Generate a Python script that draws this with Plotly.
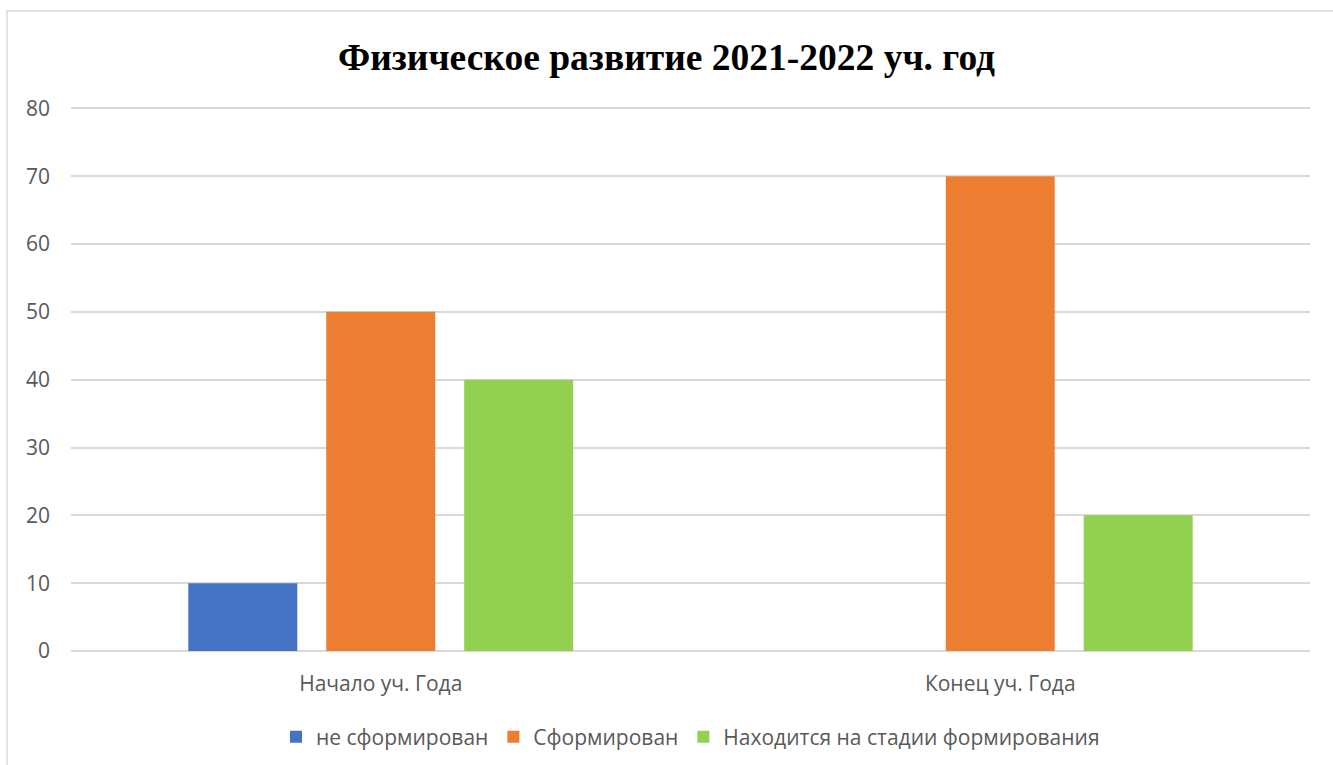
import plotly.graph_objects as go

categories = ["Начало уч. Года", "Конец уч. Года"]
series_names = ["не сформирован", "Сформирован", "Находится на стадии формирования"]
not_formed = [10, 0]
formed = [50, 70]
forming = [40, 20]
colors = ["#4472c4", "#ed7d31", "#92d050"]

W, H = 1333, 765
L, R, T, B = 71, 23, 107, 114
pw, ph = W - L - R, H - T - B

fig = go.Figure()
for name, vals, col in zip(series_names, [not_formed, formed, forming], colors):
    fig.add_trace(go.Bar(x=categories, y=vals, name=name, marker_color=col,
                         marker_line_width=0))

# chart frame
fig.add_shape(type="rect", xref="paper", yref="paper",
              x0=(7 - L) / pw, x1=(W + 5 - L) / pw,
              y0=(H - B - (H + 5)) / ph, y1=(H - B - 11) / ph,
              line=dict(color="#d9d9d9", width=1.5), layer="below")

fig.update_layout(
    width=W, height=H,
    margin=dict(l=L, r=R, t=T, b=B, autoexpand=False),
    paper_bgcolor="white", plot_bgcolor="white",
    barmode="group", bargap=0.332, bargroupgap=0.21,
    title=dict(text="<b>Физическое развитие 2021-2022 уч. год</b>",
               x=0.5, xanchor="center", y=1 - 57 / H, yanchor="middle",
               font=dict(family="Liberation Serif", size=37.5, color="black")),
    font=dict(family="Open Sans", size=21, color="#595959"),
    legend=dict(orientation="h", x=0.5, xanchor="center", y=(H - B - 737) / ph,
                yanchor="middle", font=dict(size=21, color="#595959"),
                itemwidth=30, traceorder="normal"),
    showlegend=True,
)
fig.update_yaxes(range=[0, 80.2], dtick=10, showgrid=True, gridcolor="#d9d9d9",
                 gridwidth=1.5, zeroline=True, zerolinecolor="#d9d9d9",
                 zerolinewidth=1.5, showline=False, ticks="", automargin=False,
                 ticklabelstandoff=20, tickfont=dict(size=21, color="#595959"))
fig.update_xaxes(showline=False, ticks="", showgrid=False, automargin=False,
                 tickfont=dict(size=21, color="#595959"), ticklabelstandoff=18)

fig.write_html("out.html", config={"displayModeBar": False},
               post_script="document.body.style.margin='0';")
